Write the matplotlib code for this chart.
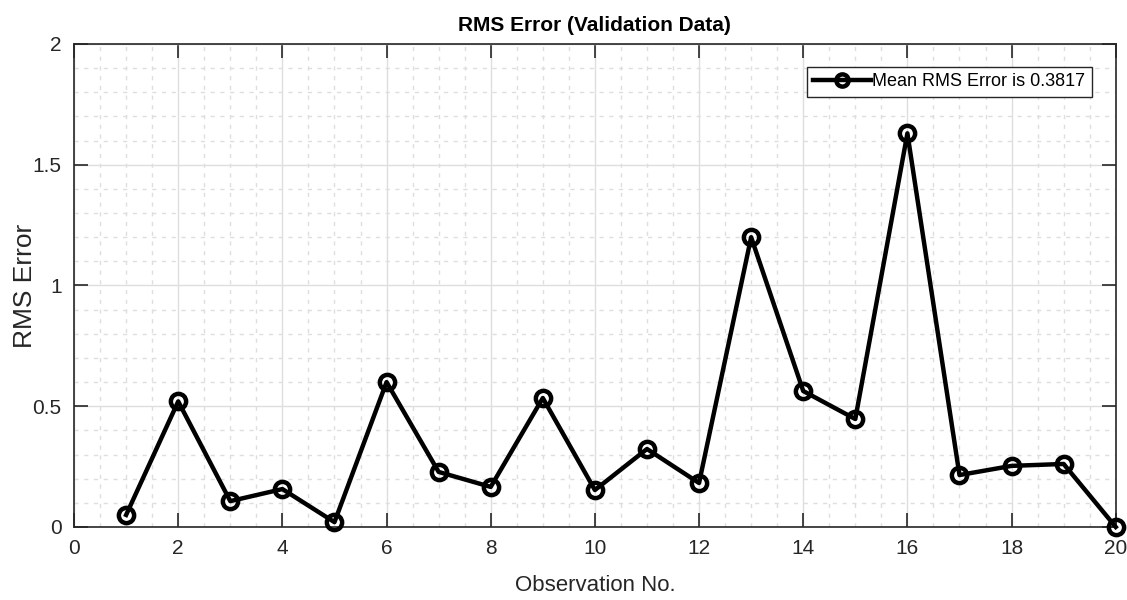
import numpy as np
import matplotlib
matplotlib.use("Agg")
import matplotlib.pyplot as plt
from matplotlib.ticker import MultipleLocator

plt.rcParams['font.family'] = ['Liberation Sans Narrow', 'Liberation Sans', 'DejaVu Sans']

observation = list(range(1, 21))
rms_error = [0.05, 0.52, 0.107, 0.157, 0.02, 0.60, 0.228, 0.166, 0.534, 0.153,
             0.323, 0.182, 1.20, 0.563, 0.447, 1.63, 0.215, 0.253, 0.261, 0.0]
mean_label = "Mean RMS Error is 0.3817"

fig = plt.figure(figsize=(11.27, 6), dpi=100)
ax = fig.add_axes([0.0657, 0.1217, 0.9243, 0.805])

ax.plot(observation, rms_error, color="black", linewidth=3.2, marker="o",
        markersize=11, markerfacecolor="none", markeredgewidth=3.2,
        label=mean_label, clip_on=False, zorder=3)

ax.set_xlim(0, 20)
ax.set_ylim(0, 2)
ax.xaxis.set_major_locator(MultipleLocator(2))
ax.xaxis.set_minor_locator(MultipleLocator(0.5))
ax.yaxis.set_major_locator(MultipleLocator(0.5))
ax.yaxis.set_minor_locator(MultipleLocator(0.1))
ax.set_yticks([0, 0.5, 1, 1.5, 2])
ax.set_yticklabels(["0", "0.5", "1", "1.5", "2"])

ax.grid(which="major", color="#dedede", linewidth=1)
ax.grid(which="minor", color="#dedede", linewidth=1, linestyle=(0, (3, 4)))
ax.set_axisbelow(True)

ax.tick_params(which="major", direction="in", length=10, width=1.2,
               top=True, right=True, labelsize=15, colors="#262626", pad=9)
ax.tick_params(which="minor", length=0)
for spine in ax.spines.values():
    spine.set_linewidth(1.2)
    spine.set_color("#262626")

ax.set_xlabel("Observation No.", fontsize=16, color="#262626", labelpad=12)
ax.set_ylabel("RMS Error", fontsize=19, color="#262626", labelpad=-3)
ax.set_title("RMS Error (Validation Data)", fontsize=15, fontweight="bold", pad=9)

leg = ax.legend(loc="upper right", bbox_to_anchor=(0.977, 0.952), fontsize=13,
                fancybox=False, framealpha=1, edgecolor="#262626",
                handlelength=3.2, handletextpad=0.1, borderpad=0.35,
                borderaxespad=0, markerscale=0.8)
leg.get_frame().set_linewidth(1.0)

fig.savefig("out.png", dpi=100)
